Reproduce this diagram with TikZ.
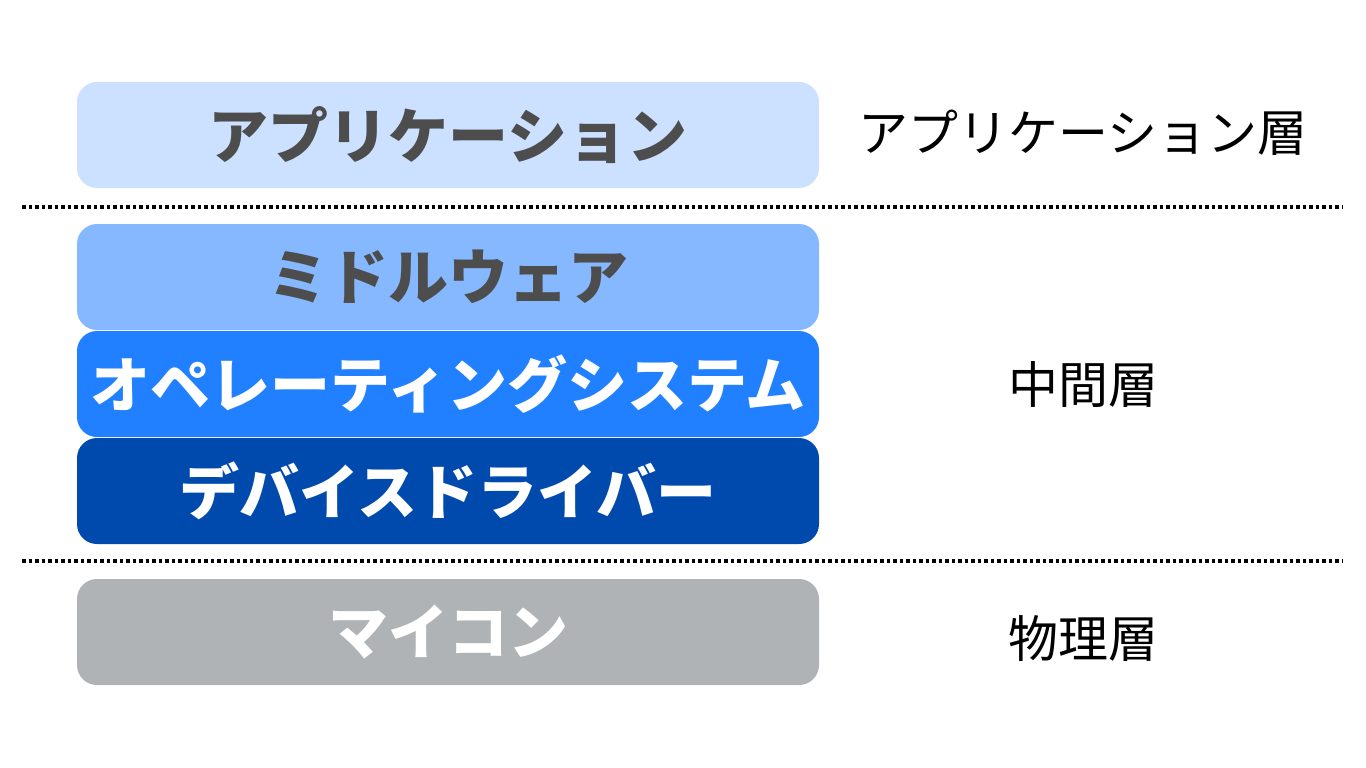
\documentclass[tikz,border=0pt]{standalone}
\usepackage{fontspec}
\newfontfamily\jp{Noto Sans CJK JP}
\definecolor{appblue}{RGB}{204,224,255}
\definecolor{midblue}{RGB}{133,184,255}
\definecolor{osblue}{RGB}{32,128,255}
\definecolor{drvblue}{RGB}{0,74,173}
\definecolor{mcugray}{RGB}{175,179,182}
\definecolor{dgray}{RGB}{77,77,77}
\tikzset{
      layer/.style={rounded corners=20pt, minimum width=742pt, minimum height=106pt,
            inner sep=0pt, font=\jp\bfseries\fontsize{60}{60}\selectfont},
      tag/.style={font=\jp\fontsize{50}{50}\selectfont, text=black},
      border/.style={draw=black, line width=3.5pt, dash pattern=on 3.5pt off 3pt},
}
\begin{document}
\begin{tikzpicture}[x=1pt,y=-1pt]

        \fill[white] (0,0) rectangle (1366,768) ;

        \node[layer,fill=appblue,text=dgray](app) at (448,135) {アプリケーション} ;
        \node[layer,fill=midblue,text=dgray](mid) at (448,277) {ミドルウェア} ;
        \node[layer,fill=osblue,text=white](os) at (448,384) {オペレーティングシステム} ;
        \node[layer,fill=drvblue,text=white](drv) at (448,491) {デバイスドライバー} ;
        \node[layer,fill=mcugray,text=white](mcu) at (448,632) {マイコン} ;

        \coordinate (l1) at (22,207) ;
        \coordinate (r1) at (1343,207) ;
        \coordinate (l2) at (22,561) ;
        \coordinate (r2) at (1343,561) ;
        \draw[border] (l1) -- (r1) ;
        \draw[border] (l2) -- (r2) ;

        \node[tag](apptag) at (1083,133) {アプリケーション層} ;
        \node[tag](midtag) at (1083,385) {中間層} ;
        \node[tag](phytag) at (1083,638) {物理層} ;

\end{tikzpicture}
\end{document}
